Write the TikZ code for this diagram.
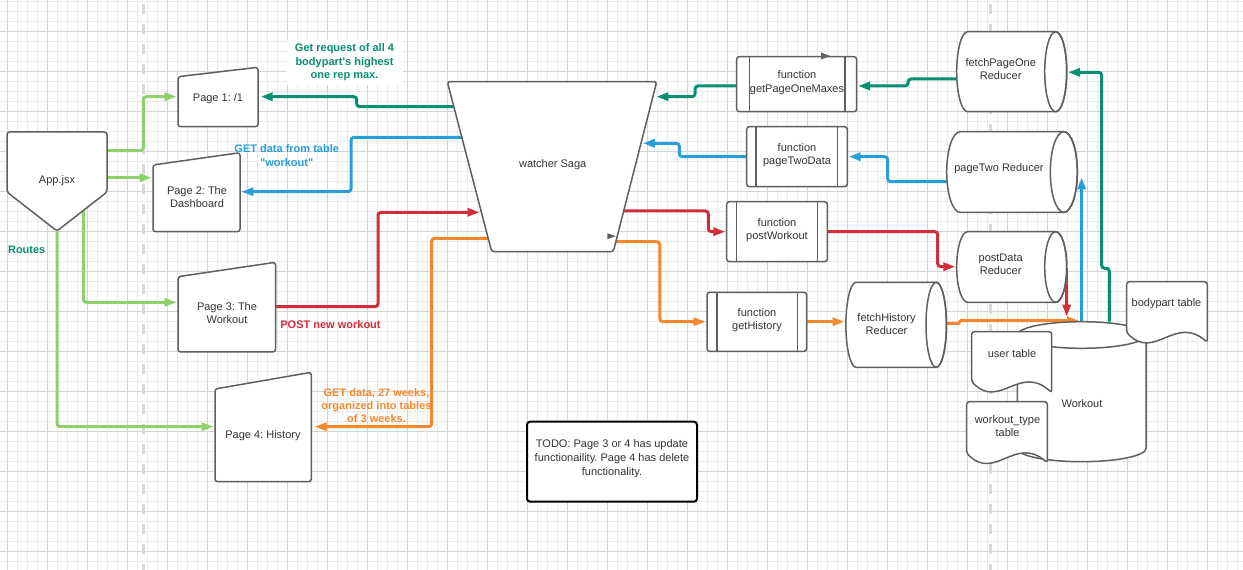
\documentclass[tikz,border=0pt]{standalone}
\usepackage{fontspec}
\newfontfamily\lsans{Liberation Sans}
\usetikzlibrary{arrows.meta,calc}
\definecolor{gmin}{HTML}{ECECEC}
\definecolor{gmaj}{HTML}{D4D4D4}
\definecolor{dashc}{HTML}{D9D9D9}
\definecolor{edgec}{HTML}{5F5F5F}
\definecolor{txtc}{HTML}{333333}
\definecolor{cgreen}{RGB}{141,208,108}
\definecolor{cteal}{RGB}{8,143,113}
\definecolor{cblue}{RGB}{40,158,220}
\definecolor{cred}{RGB}{210,45,58}
\definecolor{corange}{RGB}{245,135,45}
\newcommand\hcyl[5]{% L R T B rx
  \draw[shapeline,rounded corners=0pt] ({#1+#5},#3) -- ({#2-#5},#3)
    arc[start angle=-90,end angle=90,x radius=#5,y radius={(#4-#3)/2}]
    -- ({#1+#5},#4)
    arc[start angle=90,end angle=270,x radius=#5,y radius={(#4-#3)/2}] -- cycle;
  \draw[draw=edgec,line width=1.125pt] ({#2-#5},{(#3+#4)/2}) ellipse[x radius=#5,y radius={(#4-#3)/2}];}
\newcommand\docshape[5]{% L R T lb rb
  \draw[shapeline] (#2,#5) .. controls ({#1+0.6*(#2-#1)},{#4-18}) and ({#1+0.35*(#2-#1)},{#4+28}) .. (#1,#4)
    -- (#1,#3) -- (#2,#3) -- cycle;}
\newcommand\funcbox[6]{% L R T B i1 i2
  \draw[shapeline] (#1,#3) rectangle (#2,#4);
  \draw[draw=edgec,line width=1.125pt] (#5,#3) -- (#5,#4) (#6,#3) -- (#6,#4);}
\begin{document}
\begin{tikzpicture}[x=0.75pt,y=-0.75pt,
  shapeline/.style={draw=edgec,fill=white,line width=1.125pt,rounded corners=2pt},
  hold/.style 2 args={inner sep=0pt,outer sep=0pt,draw=none,minimum width=#1*0.75pt,minimum height=#2*0.75pt},
  txt/.style={font=\lsans\frenchspacing\fontsize{8.25}{10}\selectfont,text=txtc,align=center,inner sep=0pt},
  lbl/.style={font=\lsans\frenchspacing\bfseries\fontsize{8.25}{10}\selectfont,align=center,inner sep=0pt},
  conn/.style={line width=2.25pt,rounded corners=2.25pt,shorten >=1pt,-{Triangle[length=9pt,width=6pt]}},
  ]
\useasboundingbox (0,0) rectangle (1243,570);
\fill[white] (0,0) rectangle (1243,570);
% grid
\foreach \i in {0,...,123} \draw[gmin,line width=0.75pt] ({7.3+10*\i},0) -- ({7.3+10*\i},570);
\foreach \j in {0,...,56} \draw[gmin,line width=0.75pt] (0,{1.7+10*\j}) -- (1243,{1.7+10*\j});
\foreach \i in {0,...,30} \draw[gmaj,line width=0.75pt] ({7.3+40*\i},0) -- ({7.3+40*\i},570);
\foreach \j in {0,...,13} \draw[gmaj,line width=0.75pt] (0,{31.7+40*\j}) -- (1243,{31.7+40*\j});
% dashed separators
\draw[dashc,line width=2.25pt,dash pattern=on 7.5pt off 7.5pt,dash phase=12pt] (143,0) -- (143,570);
\draw[dashc,line width=2.25pt,dash pattern=on 7.5pt off 7.5pt,dash phase=12pt] (990.5,0) -- (990.5,570);

% holder nodes (shape extents)
\node[hold={100}{99}] (app) at (57,181.5) {};
\node[hold={80}{59.4}] (p1) at (218,97) {};
\node[hold={87}{79}] (p2) at (196.5,192.2) {};
\node[hold={97.5}{89.7}] (p3) at (226.75,307.15) {};
\node[hold={96.3}{109.4}] (p4) at (263.15,427) {};
\node[hold={209.4}{170}] (saga) at (552,166.7) {};
\node[hold={120}{55}] (f1) at (796.7,84.2) {};
\node[hold={100.6}{60}] (f2) at (797,156.7) {};
\node[hold={100.6}{60}] (f3) at (777,231.7) {};
\node[hold={99.7}{59}] (f4) at (756.85,321.8) {};
\node[hold={110}{80}] (r1) at (1011.7,71.7) {};
\node[hold={130.6}{80.6}] (r2) at (1012,172) {};
\node[hold={110}{70.6}] (r3) at (1011.7,267) {};
\node[hold={100.5}{85}] (r4) at (896.15,324.8) {};
\node[hold={128.7}{140}] (wk) at (1081.65,391.7) {};
\node[hold={170}{80}] (todo) at (612,461.7) {};

% ports
\coordinate (appP3) at (83.3,210.5);
\coordinate (sgT2) at (655,96.7);
\coordinate (sgT3) at (453.8,106.7);
\coordinate (sgB2) at (641.5,143.3);
\coordinate (sgB3) at (461.8,137.3);
\coordinate (sgR1) at (481,212.3);
\coordinate (sgR2) at (623.7,211);
\coordinate (sgO1) at (488.2,238.3);
\coordinate (sgO2) at (615.9,241.7);
\coordinate (wkO) at (1080.4,320.7);

% connectors
\draw[conn,cgreen] (app.east |- 0,150.7) -- (143.3,150.7) -- (143.3,96.7) -- (p1.west |- 0,96.7);
\draw[conn,cgreen] (app.east |- 0,177.7) -- (p2.west |- 0,177.7);
\draw[conn,cgreen] (appP3) -- (83.3,302.3) -- (p3.west |- 0,302.3);
\draw[conn,cgreen] (app.south) -- (57,426.7) -- (p4.west |- 0,426.7);

\draw[conn,cteal] (r1.west |- 0,79) -- (908,79) -- (908,86) -- (f1.east |- 0,86);
\draw[conn,cteal] (f1.west |- 0,86) -- (695,86) -- (695,96.7) -- (sgT2);
\draw[conn,cteal,shorten >=2pt] (sgT3) -- (356.7,106.7) -- (356.7,96.7) -- (p1.east |- 0,96.7);
\draw[conn,cteal] (wk.north -| 1109.3,0) -- (1109.3,268.3) -- (1101.7,268.3) -- (1101.7,72.3) -- (r1.east |- 0,72.3);

\draw[conn,cblue] (r2.west |- 0,181.7) -- (887.7,181.7) -- (887.7,156.7) -- (f2.east |- 0,156.7);
\draw[conn,cblue] (f2.west |- 0,156.7) -- (679.3,156.7) -- (679.3,143.3) -- (sgB2);
\draw[conn,cblue] (sgB3) -- (351,137.3) -- (351,191.7) -- (p2.east |- 0,191.7);
\draw[conn,cblue] (wk.north) -- (wk.north |- 0,176);

\draw[conn,cred] (p3.east |- 0,306.7) -- (378,306.7) -- (378,212.3) -- (sgR1);
\draw[conn,cred] (sgR2) -- (708.3,211) -- (708.3,231.7) -- (f3.west |- 0,231.7);
\draw[conn,cred] (f3.east |- 0,231.7) -- (937.7,231.7) -- (937.7,266.7) -- (r3.west |- 0,266.7);
\draw[conn,cred] (r3.east |- 0,268.3) -- (r3.east |- 0,318);

\draw[conn,corange,shorten >=2.5pt] (sgO1) -- (431.6,238.3) -- (431.6,426.7) -- (p4.east |- 0,426.7);
\draw[conn,corange] (sgO2) -- (659.8,241.7) -- (659.8,321.7) -- (f4.west |- 0,321.7);
\draw[conn,corange] (f4.east |- 0,321.7) -- (r4.west |- 0,321.7);
\draw[conn,corange,rounded corners=1pt] (r4.east |- 0,323.5) -- (959.5,323.5) -- (959.5,320.7) -- (wkO);

% shapes
\draw[shapeline] (7,132) -- (107,132) -- (107,192) -- (57,231) -- (7,192) -- cycle;
\draw[shapeline] (178,76.7) -- (258,67.3) -- (258,126.7) -- (178,126.7) -- cycle;
\draw[shapeline] (153,165) -- (240,152.7) -- (240,231.7) -- (153,231.7) -- cycle;
\draw[shapeline] (178,276.7) -- (275.5,262.3) -- (275.5,352) -- (178,352) -- cycle;
\draw[shapeline] (215,389) -- (311.3,372.3) -- (311.3,481.7) -- (215,481.7) -- cycle;
\draw[shapeline] (447.3,81.7) -- (656.7,81.7) -- (613.3,251.7) -- (491.7,251.7) -- cycle;

\funcbox{736.7}{856.7}{56.7}{111.7}{749.3}{845}
\funcbox{746.7}{847.3}{126.7}{186.7}{756}{837.3}
\funcbox{726.7}{827.3}{201.7}{261.7}{736.7}{817.3}
\funcbox{707}{806.7}{292.3}{351.3}{717}{797.3}

\hcyl{956.7}{1066.7}{31.7}{111.7}{11}
\hcyl{946.7}{1077.3}{131.7}{212.3}{13.5}
\hcyl{956.7}{1066.7}{231.7}{302.3}{11}
\hcyl{845.9}{946.4}{282.3}{367.3}{10.2}

% Workout database cylinder
\draw[shapeline,rounded corners=0pt] (1017.3,335) -- (1017.3,448.4)
  arc[start angle=180,end angle=0,x radius=64.35,y radius=13.3]
  -- (1146,335) arc[start angle=0,end angle=-180,x radius=64.35,y radius=13.3] -- cycle;
\draw[draw=edgec,line width=1.125pt] (1017.3,335) arc[start angle=180,end angle=0,x radius=64.35,y radius=13.3];

\docshape{1126.7}{1207.3}{281.7}{332.7}{342.3}
\docshape{971.7}{1051.7}{331.7}{381.7}{392.7}
\docshape{966.7}{1047.3}{401.7}{453.3}{462.7}

\draw[black,fill=white,line width=1.5pt,rounded corners=2.25pt] (527,421.7) rectangle (697,501.7);

% stray arrow heads
\fill[edgec] (821,52.5) -- (830,56) -- (821,59.5) -- cycle;
\fill[edgec] (607.3,233.2) -- (615.7,236.2) -- (607.3,239.2) -- cycle;

% texts
\node[txt] (app-t) at (57,181) {App.jsx};
\node[txt] (p1-t) at (218,99) {Page 1: /1};
\node[txt] (p2-t) at (197,197) {Page 2: The\\Dashboard};
\node[txt] (p3-t) at (227,313) {Page 3: The\\Workout};
\node[txt] (p4-t) at (263,436) {Page 4: History};
\node[txt] (saga-t) at (552.7,164.3) {watcher Saga};
\node[txt] (f1-t) at (797,82.7) {function\\getPageOneMaxes};
\node[txt] (f2-t) at (797,155.3) {function\\pageTwoData};
\node[txt] (f3-t) at (777,230.3) {function\\postWorkout};
\node[txt] (f4-t) at (757,320.3) {function\\getHistory};
\node[txt] (r1-t) at (1000.7,69.2) {fetchPageOne\\Reducer};
\node[txt] (r2-t) at (999,169) {pageTwo Reducer};
\node[txt] (r3-t) at (1000.7,264) {postData\\Reducer};
\node[txt] (r4-t) at (886.5,324) {fetchHistory\\Reducer};
\node[txt] (wk-t) at (1082,404) {Workout};
\node[txt] (bp-t) at (1166.5,304) {bodypart table};
\node[txt] (ut-t) at (1012,354) {user table};
\node[txt] (wt-t) at (1007.5,425.8) {workout\_type\\table};
\node[txt,font=\lsans\frenchspacing\fontsize{8.25}{10.3}\selectfont] (todo-t) at (612,458.5) {TODO: Page 3 or 4 has update\\functionaility. Page 4 has delete\\functionality.};

% labels
\node[lbl,text=cteal] (routes) at (26.7,250) {Routes};
\node[lbl,text=cteal,fill=white,minimum width=87pt,minimum height=33.75pt] (lbl-get1) at (344.5,62.4) {Get request of all 4\\bodypart's highest\\one rep max.};
\node[lbl,text=cblue] (lbl-get2) at (286.7,155.7) {GET data from table\\"workout"};
\node[lbl,text=cred] (lbl-post) at (330.5,325) {POST new workout};
\node[lbl,text=corange] (lbl-get4) at (376.5,405.7) {GET data, 27 weeks,\\organized into tables\\of 3 weeks.};
\end{tikzpicture}
\end{document}
